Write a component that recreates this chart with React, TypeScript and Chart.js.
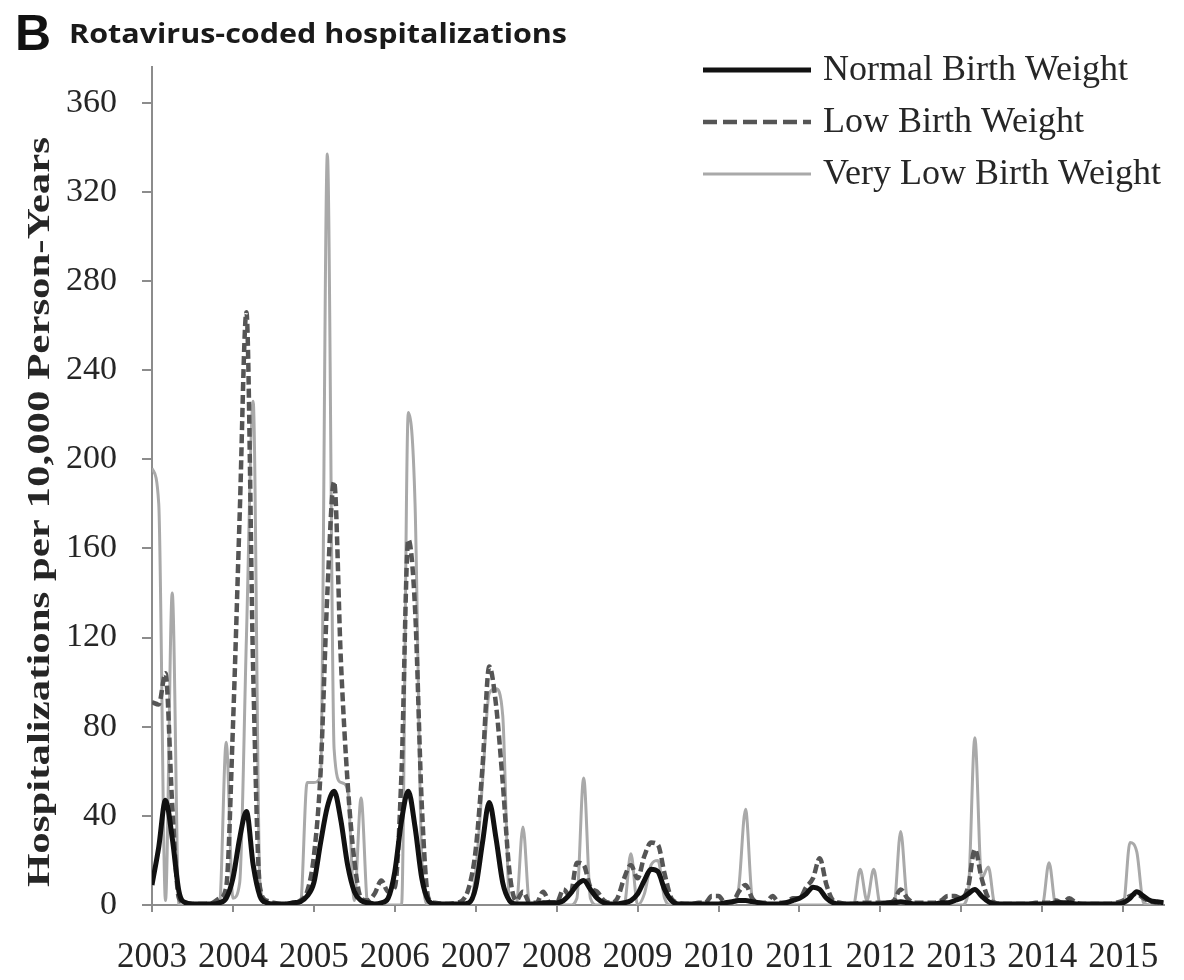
import React, { useEffect, useRef } from "react";
import { Chart, registerables } from "chart.js";

Chart.register(...registerables);

// ---------- data ----------
const YEAR_LABELS = ["2003", "2004", "2005", "2006", "2007", "2008", "2009", "2010", "2011", "2012", "2013", "2014", "2015"];
const Y_TICK_VALUES = [0, 40, 80, 120, 160, 200, 240, 280, 320, 360];
const Y_MAX = 376;
const LAST_MONTH = 150; // Jan 2003 = 0 ... Jul 2015 = 150

const TITLE_LETTER = "B";
const TITLE_TEXT = "Rotavirus-coded hospitalizations";
const Y_TITLE = "Hospitalizations per 10,000 Person-Years";
const SERIES_NAMES = ["Normal Birth Weight", "Low Birth Weight", "Very Low Birth Weight"];

// monthly values, Jan 2003 .. Jul 2015
const normalBirthWeight = [
  9, 26, 47, 30, 6, 1, 0.5, 0.5, 0.5, 0.5, 1, 3,
  12, 30, 42, 18, 4, 1, 0.5, 0.5, 0.5, 1, 1.5, 4,
  10, 28, 44, 51, 38, 18, 6, 2, 1, 0.5, 1, 3,
  15, 38, 51, 35, 12, 2, 0.5, 0.5, 0.5, 0.5, 0.5, 1,
  8, 28, 46, 30, 10, 2, 0.5, 0.5, 0.5, 0.5, 1, 1,
  1, 2, 5, 9, 11, 7, 3, 1, 0.5, 0.5, 1, 2,
  5, 11, 16, 15, 7, 2, 0.5, 0.5, 0.5, 0.5, 0.5, 0.5,
  0.5, 1, 1.5, 2, 2, 1.5, 1, 0.5, 0.5, 0.5, 1, 2,
  3, 5, 8, 7, 3, 1, 0.5, 0.5, 0.5, 0.5, 0.5, 0.5,
  0.5, 1, 1, 1.5, 1, 0.5, 0.5, 0.5, 0.5, 1, 1, 2,
  3, 5, 7, 4, 1.5, 0.5, 0.5, 0.5, 0.5, 0.5, 0.5, 0.5,
  0.5, 0.5, 1, 1, 1, 0.5, 0.5, 0.5, 0.5, 0.5, 0.5, 0.5,
  1, 3, 6, 4, 2, 1.5, 1,
];

const lowBirthWeight = [
  91, 90, 104, 45, 3, 1, 0.5, 0.5, 0.5, 1, 3, 8,
  80, 175, 266, 105, 8, 2, 1, 0.5, 0.5, 1, 2, 6,
  22, 60, 140, 190, 110, 55, 20, 3, 2, 5, 11, 6,
  8, 60, 164, 133, 45, 3, 1, 0.5, 0.5, 1, 2, 8,
  25, 62, 107, 90, 55, 15, 2, 6, 1, 1, 6, 1,
  1, 7, 4, 19, 18, 8, 6, 2, 1, 3, 12, 18,
  12, 22, 28, 27, 14, 3, 1, 0.5, 0.5, 1, 1, 4,
  4, 1, 1, 6, 9, 3, 1, 1, 4, 1, 1, 3,
  3, 8, 12, 21, 9, 2, 1, 0.5, 0.5, 1, 1, 1,
  1, 1, 2, 7, 3, 1, 1, 1, 1, 2, 4, 4,
  3, 8, 25, 12, 3, 1, 0.5, 0.5, 0.5, 0.5, 0.5, 1,
  1, 1, 2, 1, 3, 1, 0.5, 0.5, 0.5, 0.5, 0.5, 1,
  2, 4, 5, 3, 1.5, 1, 0.5,
];

const veryLowBirthWeight = [
  196, 180, 2, 140, 0, 0, 0, 0, 0, 0, 0, 73,
  3, 10, 120, 226, 10, 0, 0, 0, 0, 0, 0, 55,
  55, 58, 337, 70, 55, 52, 2, 48, 0, 0, 0, 0,
  0, 0, 221, 180, 20, 0, 0, 0, 0, 0, 0, 0,
  15, 55, 95, 97, 85, 2, 0, 35, 0, 0, 0, 0,
  0, 0, 0, 3, 57, 3, 0, 0, 0, 0, 0, 23,
  0, 5, 18, 20, 3, 0, 0, 0, 0, 0, 0, 0,
  0, 0, 0, 8, 43, 3, 0, 0, 0, 0, 0, 0,
  0, 0, 0, 0, 0, 0, 0, 0, 0, 16, 2, 16,
  0, 0, 0, 33, 2, 0, 0, 0, 0, 0, 0, 0,
  0, 5, 75, 12, 17, 0, 0, 0, 0, 0, 0, 0,
  0, 19, 0, 0, 0, 0, 0, 0, 0, 0, 0, 0,
  0, 28, 24, 1, 0, 0, 0,
];

const SERIES_VALUES = [normalBirthWeight, lowBirthWeight, veryLowBirthWeight];
const SERIES_COLORS = ["#111111", "#555555", "#a9a9a9"];
const SERIES_WIDTHS = [5, 4.5, 3];
const SERIES_DASH: number[][] = [[], [9, 4], []];
const LEGEND_DASH: number[][] = [[], [14, 6], []];

const AXIS_COLOR = "#8c8c8c";
const TEXT_COLOR = "#262626";

// ---------- decorations (title, legend, y title) ----------
const decorPlugin = {
  id: "decor",
  afterDraw(chart: any) {
    const ctx: CanvasRenderingContext2D = chart.ctx;
    ctx.save();
    ctx.fillStyle = "#111";
    ctx.textAlign = "left";
    ctx.textBaseline = "alphabetic";
    ctx.font = "bold 50px 'Liberation Sans', Arial, sans-serif";
    ctx.fillText(TITLE_LETTER, 15, 50);

    ctx.save();
    ctx.fillStyle = "#1a1a1a";
    ctx.font = "bold 26px 'Open Sans', 'DejaVu Sans', sans-serif";
    const tw = ctx.measureText(TITLE_TEXT).width;
    ctx.translate(69, 43);
    ctx.scale(498 / tw, 1);
    ctx.fillText(TITLE_TEXT, 0, 0);
    ctx.restore();

    // y title, stretched along its length
    ctx.save();
    ctx.fillStyle = TEXT_COLOR;
    ctx.translate(41, 512);
    ctx.rotate(-Math.PI / 2);
    ctx.font = "bold 31px 'Liberation Serif', 'Times New Roman', serif";
    const w = ctx.measureText(Y_TITLE).width;
    ctx.scale(750 / w, 1);
    ctx.textAlign = "center";
    ctx.textBaseline = "middle";
    ctx.fillText(Y_TITLE, 0, 0);
    ctx.restore();

    // legend
    const rowsY = [70, 122, 174];
    chart.data.datasets.forEach((ds: any, i: number) => {
      const y = rowsY[i];
      ctx.save();
      ctx.strokeStyle = ds.borderColor;
      ctx.lineWidth = ds.borderWidth;
      ctx.setLineDash(LEGEND_DASH[i]);
      ctx.beginPath();
      ctx.moveTo(703, y);
      ctx.lineTo(811, y);
      ctx.stroke();
      ctx.restore();
      ctx.fillStyle = TEXT_COLOR;
      ctx.font = "36px 'Liberation Serif', 'Times New Roman', serif";
      ctx.textAlign = "left";
      ctx.textBaseline = "middle";
      ctx.fillText(ds.label, 823, y + 1);
    });
    ctx.restore();
  },
};

export default function App() {
  const canvasRef = useRef<HTMLCanvasElement | null>(null);

  useEffect(() => {
    if (!canvasRef.current) return;
    const datasets = SERIES_VALUES.map((vals, i) => ({
      label: SERIES_NAMES[i],
      data: vals.map((v, m) => ({ x: m, y: v })),
      borderColor: SERIES_COLORS[i],
      backgroundColor: SERIES_COLORS[i],
      borderWidth: SERIES_WIDTHS[i],
      borderDash: SERIES_DASH[i],
      pointRadius: 0,
      fill: false,
      cubicInterpolationMode: "monotone" as const,
      borderJoinStyle: "round" as const,
    }));

    const chart = new Chart(canvasRef.current, {
      type: "line",
      data: { datasets },
      plugins: [decorPlugin],
      options: {
        animation: false,
        responsive: false,
        devicePixelRatio: 1,
        layout: { padding: { left: 0, top: 67, right: 19, bottom: 0 } },
        plugins: {
          legend: { display: false },
          title: { display: false },
          tooltip: { enabled: false },
        },
        scales: {
          x: {
            type: "linear",
            min: 0,
            max: LAST_MONTH,
            afterBuildTicks: (scale: any) => {
              scale.ticks = YEAR_LABELS.map((_, i) => ({ value: i * 12 }));
            },
            afterFit: (scale: any) => {
              scale.height = 75;
            },
            ticks: {
              autoSkip: false,
              maxRotation: 0,
              padding: 25,
              color: TEXT_COLOR,
              font: { family: "'Liberation Serif', 'Times New Roman', serif", size: 35 },
              callback: (v: any) => YEAR_LABELS[Math.round(Number(v) / 12)],
            },
            grid: {
              display: true,
              drawOnChartArea: false,
              drawTicks: true,
              tickLength: 7,
              color: AXIS_COLOR,
              lineWidth: 2,
            },
            border: { display: true, color: AXIS_COLOR, width: 2 },
          },
          y: {
            type: "linear",
            min: 0,
            max: Y_MAX,
            afterBuildTicks: (scale: any) => {
              scale.ticks = Y_TICK_VALUES.map((v) => ({ value: v }));
            },
            afterFit: (scale: any) => {
              scale.width = 152;
            },
            ticks: {
              padding: 25,
              color: TEXT_COLOR,
              font: { family: "'Liberation Serif', 'Times New Roman', serif", size: 34 },
              callback: (v: any) => String(v),
            },
            grid: {
              display: true,
              drawOnChartArea: false,
              drawTicks: true,
              tickLength: 10,
              color: AXIS_COLOR,
              lineWidth: 2,
            },
            border: { display: true, color: AXIS_COLOR, width: 2 },
          },
        },
      },
    });
    return () => chart.destroy();
  }, []);

  return (
    <div style={{ position: "absolute", left: 0, top: 0, width: 1184, height: 980, background: "#fff" }}>
      <canvas ref={canvasRef} width={1184} height={980} style={{ width: 1184, height: 980, display: "block" }} />
    </div>
  );
}
